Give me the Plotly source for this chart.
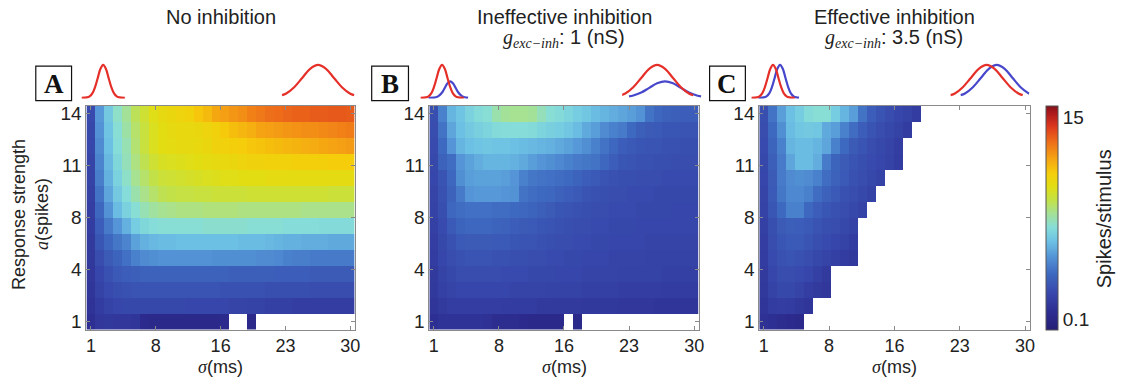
import plotly.graph_objects as go

W, H = 1133, 383

# ---------------------------------------------------------------- data
sigma_ms = list(range(1, 31))          # stimulus width (columns)
a_spikes = list(range(1, 15))          # response strength (rows)

x_tickvals = [1, 8.25, 15.5, 22.75, 30]
x_ticktext = ["1", "8", "16", "23", "30"]
y_tickvals = [1, 4.25, 7.5, 10.75, 14]
y_ticktext = ["1", "4", "8", "11", "14"]
cbar_tickvals = [0.1, 15]
cbar_ticktext = ["0.1", "15"]
z_lo, z_hi = -0.63, 15.87

# spikes per stimulus, rows from a = 1 (bottom) to a = 14 (top); None = no data
rate_no_inh = [
    [0.8, 1.2, 1.3, 1.2, 1.2, 1.1, 0.5, 0.4, 0.4, 0.4, 0.4, 0.3, 0.3, 0.3, 0.4, 0.5, None, None, 0.4],
    [1.0, 1.5, 1.8, 2.0, 2.1, 2.1, 2.1, 2.1, 2.1, 2.1, 2.1, 2.0, 2.0, 2.0, 2.0, 2.0, 1.9, 1.9, 1.8, 1.8, 1.7, 1.7, 1.7, 1.6, 1.6, 1.6, 1.6, 1.6, 1.6, 1.6],
    [1.1, 1.8, 2.2, 2.4, 2.5, 2.6, 2.6, 2.6, 2.6, 2.6, 2.6, 2.6, 2.6, 2.6, 2.6, 2.5, 2.5, 2.5, 2.5, 2.5, 2.4, 2.4, 2.4, 2.4, 2.4, 2.3, 2.3, 2.3, 2.3, 2.3],
    [1.2, 2.0, 2.5, 2.8, 3.0, 3.1, 3.2, 3.2, 3.2, 3.2, 3.2, 3.2, 3.2, 3.2, 3.2, 3.2, 3.1, 3.1, 3.1, 3.1, 3.1, 3.0, 3.0, 3.0, 3.0, 2.9, 2.9, 2.9, 2.9, 2.9],
    [1.3, 2.3, 2.9, 3.3, 3.7, 4.2, 4.5, 4.6, 4.7, 4.7, 4.7, 4.7, 4.7, 4.7, 4.6, 4.6, 4.6, 4.6, 4.6, 4.5, 4.5, 4.4, 4.2, 4.1, 4.1, 4.0, 4.0, 4.0, 4.0, 4.0],
    [1.4, 2.7, 3.4, 3.9, 4.3, 5.1, 5.5, 5.7, 5.8, 5.8, 5.9, 5.9, 5.9, 5.9, 5.9, 5.9, 5.9, 5.8, 5.8, 5.8, 5.7, 5.6, 5.5, 5.5, 5.4, 5.4, 5.4, 5.3, 5.3, 5.3],
    [1.5, 3.0, 4.0, 4.8, 5.5, 6.3, 6.7, 6.9, 7.0, 7.0, 7.0, 7.0, 7.0, 7.1, 7.1, 7.1, 7.1, 7.1, 7.0, 7.0, 7.0, 7.0, 6.9, 6.9, 6.9, 6.9, 6.8, 6.8, 6.8, 6.8],
    [1.6, 3.4, 4.7, 5.8, 6.5, 7.0, 7.5, 7.8, 8.0, 8.1, 8.2, 8.2, 8.2, 8.3, 8.3, 8.3, 8.3, 8.2, 8.2, 8.2, 8.2, 8.2, 8.2, 8.2, 8.1, 8.1, 8.1, 8.1, 8.1, 8.1],
    [1.7, 3.8, 5.2, 6.2, 6.9, 7.6, 8.1, 8.5, 8.8, 8.9, 9.0, 9.0, 9.1, 9.1, 9.2, 9.2, 9.2, 9.2, 9.3, 9.3, 9.3, 9.3, 9.3, 9.3, 9.3, 9.3, 9.3, 9.2, 9.2, 9.2],
    [1.8, 4.1, 5.5, 6.5, 7.2, 8.0, 8.5, 8.9, 9.2, 9.3, 9.4, 9.5, 9.6, 9.7, 9.8, 9.9, 9.9, 10.0, 10.0, 10.0, 10.1, 10.1, 10.1, 10.1, 10.1, 10.1, 10.1, 10.1, 10.1, 10.1],
    [1.9, 4.3, 5.7, 6.7, 7.4, 8.2, 8.8, 9.3, 9.6, 9.7, 9.8, 9.9, 10.0, 10.1, 10.2, 10.3, 10.4, 10.5, 10.6, 10.6, 10.7, 10.7, 10.7, 10.8, 10.8, 10.8, 10.8, 10.9, 10.9, 10.9],
    [2.0, 4.5, 5.9, 6.9, 7.5, 8.4, 9.1, 9.7, 10.0, 10.1, 10.2, 10.2, 10.3, 10.4, 10.6, 10.7, 10.8, 10.9, 11.1, 11.2, 11.3, 11.4, 11.5, 11.6, 11.7, 11.8, 11.9, 12.0, 12.1, 12.2],
    [2.1, 4.7, 6.0, 7.0, 7.7, 8.5, 9.1, 9.7, 10.0, 10.2, 10.3, 10.3, 10.4, 10.5, 10.7, 11.0, 11.3, 11.5, 11.7, 12.0, 12.1, 12.2, 12.3, 12.4, 12.5, 12.5, 12.6, 12.7, 12.8, 12.9],
    [2.2, 4.9, 6.2, 7.2, 7.9, 8.7, 9.3, 9.9, 10.2, 10.4, 10.5, 10.7, 11.1, 11.4, 11.9, 12.1, 12.3, 12.5, 12.8, 13.0, 13.2, 13.3, 13.4, 13.5, 13.5, 13.6, 13.6, 13.7, 13.7, 13.6],
]

rate_weak_inh = [
    [0.8, 1.0, 1.0, 1.0, 1.0, 1.0, 0.9, 0.6, 0.6, 0.6, 0.5, 0.4, 0.3, 0.3, 0.3, None, 0.4],
    [1.1, 1.4, 1.6, 1.6, 1.6, 1.6, 1.6, 1.6, 1.5, 1.5, 1.5, 1.5, 1.4, 1.4, 1.4, 1.4, 1.4, 1.3, 1.3, 1.3, 1.3, 1.2, 1.2, 1.2, 1.2, 1.1, 1.1, 1.1, 1.1, 1.1],
    [1.3, 1.7, 1.9, 2.0, 2.0, 2.0, 2.0, 2.0, 2.0, 1.9, 1.9, 1.9, 1.9, 1.8, 1.8, 1.8, 1.8, 1.7, 1.7, 1.7, 1.7, 1.6, 1.6, 1.6, 1.6, 1.6, 1.5, 1.5, 1.5, 1.5],
    [1.4, 1.8, 2.1, 2.3, 2.3, 2.3, 2.3, 2.3, 2.2, 2.2, 2.2, 2.1, 2.1, 2.1, 2.0, 2.0, 2.0, 1.9, 1.9, 1.9, 1.9, 1.8, 1.8, 1.8, 1.8, 1.8, 1.7, 1.7, 1.7, 1.7],
    [1.5, 2.0, 2.3, 2.5, 2.6, 2.6, 2.6, 2.5, 2.5, 2.4, 2.4, 2.3, 2.3, 2.2, 2.2, 2.1, 2.1, 2.0, 2.0, 2.0, 1.9, 1.9, 1.9, 1.9, 1.8, 1.8, 1.8, 1.8, 1.8, 1.8],
    [1.6, 2.1, 2.5, 2.8, 2.9, 2.9, 2.9, 2.8, 2.8, 2.7, 2.6, 2.6, 2.5, 2.4, 2.3, 2.3, 2.2, 2.2, 2.1, 2.1, 2.0, 2.0, 2.0, 2.0, 1.9, 1.9, 1.9, 1.9, 1.9, 1.9],
    [1.7, 2.2, 2.8, 3.3, 3.4, 3.4, 3.4, 3.3, 3.2, 3.0, 2.9, 2.8, 2.7, 2.6, 2.5, 2.4, 2.3, 2.3, 2.2, 2.2, 2.1, 2.1, 2.1, 2.0, 2.0, 2.0, 2.0, 2.0, 2.0, 2.0],
    [1.8, 2.4, 3.4, 3.6, 3.7, 3.7, 3.7, 3.6, 3.6, 3.5, 3.4, 3.3, 3.1, 2.9, 2.7, 2.6, 2.5, 2.4, 2.3, 2.3, 2.2, 2.2, 2.2, 2.1, 2.1, 2.1, 2.1, 2.0, 2.0, 2.0],
    [1.9, 2.5, 3.2, 4.0, 4.8, 4.9, 4.9, 4.9, 4.8, 4.7, 3.8, 3.6, 3.5, 3.4, 3.2, 3.0, 2.8, 2.6, 2.5, 2.4, 2.3, 2.3, 2.2, 2.2, 2.2, 2.1, 2.1, 2.1, 2.1, 2.1],
    [2.0, 2.6, 3.4, 4.6, 5.0, 5.1, 5.1, 5.1, 5.0, 4.8, 4.2, 3.9, 3.8, 3.7, 3.6, 3.5, 3.3, 3.0, 2.8, 2.6, 2.5, 2.4, 2.4, 2.3, 2.3, 2.3, 2.2, 2.2, 2.2, 2.2],
    [2.1, 3.2, 3.6, 4.8, 5.1, 5.4, 5.6, 5.6, 5.6, 5.5, 5.3, 5.0, 4.8, 4.6, 4.4, 4.2, 4.0, 3.9, 3.8, 3.4, 3.0, 2.7, 2.6, 2.5, 2.5, 2.4, 2.4, 2.3, 2.3, 2.3],
    [2.2, 3.5, 4.8, 5.6, 5.9, 6.0, 6.1, 6.0, 6.0, 5.9, 5.8, 5.7, 5.6, 5.5, 5.3, 5.1, 4.9, 4.6, 4.2, 3.8, 3.4, 3.0, 2.8, 2.7, 2.6, 2.6, 2.5, 2.5, 2.4, 2.4],
    [2.3, 3.8, 5.2, 5.9, 6.2, 6.4, 6.6, 6.8, 6.9, 6.9, 6.9, 6.8, 6.6, 6.4, 6.3, 6.1, 5.8, 5.3, 5.0, 4.5, 4.2, 4.0, 3.5, 3.1, 2.9, 2.8, 2.7, 2.7, 2.6, 2.6],
    [2.4, 4.2, 5.6, 6.0, 6.5, 6.8, 7.0, 7.6, 7.9, 8.0, 8.0, 7.9, 7.4, 7.0, 6.8, 6.6, 6.3, 6.1, 5.8, 5.6, 5.4, 5.2, 5.0, 4.7, 3.8, 3.4, 3.2, 3.1, 3.0, 3.0],
]

rate_strong_inh = [
    [0.9, 0.8, 0.6, 0.5, 0.4],
    [1.1, 1.5, 1.6, 1.5, 1.3, 1.1],
    [1.3, 1.8, 2.1, 2.1, 1.9, 1.6, 1.4, 1.2],
    [1.4, 2.0, 2.3, 2.3, 2.2, 2.0, 1.7, 1.4],
    [1.5, 2.2, 2.5, 2.6, 2.5, 2.3, 2.1, 1.9, 1.7, 1.5, 1.3],
    [1.6, 2.3, 2.7, 2.8, 2.8, 2.6, 2.4, 2.2, 2.0, 1.8, 1.5],
    [1.7, 2.4, 2.9, 3.1, 3.0, 2.8, 2.6, 2.4, 2.3, 2.1, 1.8],
    [1.8, 2.7, 3.5, 4.2, 4.2, 3.4, 3.0, 2.7, 2.5, 2.3, 2.1, 1.8],
    [1.9, 2.8, 3.9, 4.4, 4.4, 4.2, 3.6, 3.2, 2.8, 2.5, 2.3, 2.1, 1.8],
    [2.0, 2.9, 4.0, 4.5, 4.6, 4.5, 4.2, 3.6, 3.2, 2.8, 2.5, 2.3, 2.1, 1.8],
    [2.1, 3.1, 4.0, 5.2, 5.8, 5.8, 5.4, 4.0, 3.3, 2.9, 2.6, 2.4, 2.2, 2.0, 1.8, 1.5],
    [2.2, 3.3, 4.2, 5.6, 5.8, 5.8, 5.6, 5.2, 4.2, 3.5, 2.9, 2.6, 2.3, 2.1, 1.9, 1.6],
    [2.3, 3.5, 4.6, 5.8, 6.1, 6.2, 6.1, 5.3, 5.0, 4.2, 3.6, 3.0, 2.6, 2.3, 2.1, 1.8, 1.5],
    [2.4, 3.8, 5.0, 5.9, 6.3, 6.8, 7.0, 7.0, 6.3, 5.6, 5.0, 3.8, 3.0, 2.6, 2.3, 2.0, 1.8, 1.5],
]

# stimulus conductance profiles (time in ms, normalised amplitude)
t_narrow = [-4, -3, -2.5, -2, -1.5, -1, -0.5, 0, 0.5, 1, 1.5, 2, 2.5, 3, 4]
exc_narrow = [0, 0.01, 0.04, 0.13, 0.32, 0.6, 0.88, 1, 0.88, 0.6, 0.32, 0.13, 0.04, 0.01, 0]
t_wide = [-68, -60, -45, -30, -15, 0, 15, 30, 45, 60, 68]
exc_wide = [0.08, 0.13, 0.32, 0.6, 0.88, 1, 0.88, 0.6, 0.32, 0.13, 0.08]

t_inh_weak_narrow = [-2.5, -1.5, -1, -0.5, 0, 0.5, 1, 1.5, 2, 2.5, 3, 3.5, 4, 4.5, 5.5]
inh_weak_narrow = [0, 0.005, 0.02, 0.07, 0.16, 0.3, 0.44, 0.5, 0.44, 0.3, 0.16, 0.07, 0.02, 0.005, 0]
t_inh_weak_wide = [-53, -45, -30, -15, 0, 15, 30, 45, 60, 75, 83]
inh_weak_wide = [0.04, 0.07, 0.16, 0.3, 0.44, 0.5, 0.44, 0.3, 0.16, 0.07, 0.04]

t_inh_strong_narrow = [-2.7, -1.7, -1.2, -0.7, -0.2, 0.3, 0.8, 1.3, 1.8, 2.3, 2.8, 3.3, 3.8, 4.3, 5.3]
inh_strong_narrow = [0, 0.01, 0.04, 0.13, 0.32, 0.6, 0.88, 1, 0.88, 0.6, 0.32, 0.13, 0.04, 0.01, 0]
t_inh_strong_wide = [-49, -41, -26, -11, 4, 19, 34, 49, 64, 79, 80]
inh_strong_wide = [0.08, 0.13, 0.32, 0.6, 0.88, 1, 0.88, 0.6, 0.32, 0.13, 0.12]

# ---------------------------------------------------------------- style
FONT = "Liberation Sans, Arial, Helvetica, sans-serif"
SERIF = "Liberation Serif, Times New Roman, serif"
TXT = "#222222"
RED = "#e5302a"
BLUE = "#4747cc"

cmap = [
    (0.00, "rgb(38,30,118)"), (0.08, "rgb(45,45,145)"), (0.16, "rgb(55,70,170)"),
    (0.25, "rgb(62,105,192)"), (0.33, "rgb(85,150,215)"), (0.40, "rgb(110,195,228)"),
    (0.46, "rgb(135,222,215)"), (0.52, "rgb(165,225,150)"), (0.58, "rgb(195,225,70)"),
    (0.64, "rgb(225,222,20)"), (0.70, "rgb(245,205,10)"), (0.77, "rgb(245,160,20)"),
    (0.84, "rgb(238,110,25)"), (0.91, "rgb(220,55,30)"), (0.97, "rgb(170,25,28)"),
    (1.00, "rgb(130,18,25)"),
]


def fx(p):
    return p / W


def fy(p):
    return 1 - p / H


def padded(rows):
    return [r + [None] * (len(sigma_ms) - len(r)) for r in rows]


PLOT_TOP, PLOT_BOT = 105, 332
panels = [
    dict(z=rate_no_inh, x0=86, x1=356, title="No inhibition", g=None, letter="A", box=(35, 71)),
    dict(z=rate_weak_inh, x0=431, x1=702, title="Ineffective inhibition", g="1", letter="B", box=(373, 410)),
    dict(z=rate_strong_inh, x0=763, x1=1035, title="Effective inhibition", g="3.5", letter="C", box=(713, 749)),
]

fig = go.Figure()
layout = dict(
    width=W, height=H,
    margin=dict(l=0, r=0, t=0, b=0),
    paper_bgcolor="white", plot_bgcolor="white",
    showlegend=False,
    font=dict(family=FONT, size=19, color=TXT),
    coloraxis=dict(
        colorscale=cmap, cmin=z_lo, cmax=z_hi,
        colorbar=dict(
            x=fx(1051), xanchor="left", xpad=0,
            y=fy((PLOT_TOP + PLOT_BOT) / 2), yanchor="middle", ypad=0,
            len=(PLOT_BOT - PLOT_TOP) / H, lenmode="fraction",
            thickness=12, outlinewidth=1, outlinecolor="#555555",
            tickvals=cbar_tickvals, ticktext=cbar_ticktext, ticks="",
            tickfont=dict(family=FONT, size=19, color=TXT),
        ),
    ),
)
annotations = []
shapes = []

axis_common = dict(
    showline=True, linecolor="#8a8a8a", linewidth=1, mirror="ticks",
    ticks="inside", ticklen=4, tickcolor="#8a8a8a", tickwidth=1,
    showgrid=False, zeroline=False, fixedrange=True,
)

for i, p in enumerate(panels):
    n = i + 1
    xa = "x" if n == 1 else f"x{n}"
    ya = "y" if n == 1 else f"y{n}"
    fig.add_trace(go.Heatmap(
        x=sigma_ms, y=a_spikes, z=padded(p["z"]),
        coloraxis="coloraxis", xaxis=xa, yaxis=ya,
        hoverongaps=False, zsmooth=False,
    ))
    layout[f"xaxis{'' if n == 1 else n}"] = dict(
        axis_common, domain=[fx(p["x0"]), fx(p["x1"])], range=[0.5, 30.5],
        tickvals=x_tickvals, ticktext=x_ticktext, anchor=ya,
        tickfont=dict(family=FONT, size=18, color=TXT),
    )
    layout[f"yaxis{'' if n == 1 else n}"] = dict(
        axis_common, domain=[fy(PLOT_BOT), fy(PLOT_TOP)], range=[0.5, 14.5],
        tickvals=y_tickvals, ticktext=y_ticktext, anchor=xa,
        tickfont=dict(family=FONT, size=19, color=TXT),
    )
    cx = (p["x0"] + p["x1"]) / 2
    annotations.append(dict(
        x=fx(cx), y=fy(15), xref="paper", yref="paper", showarrow=False,
        text=p["title"], font=dict(family=FONT, size=20, color=TXT),
        xanchor="center", yanchor="middle",
    ))
    if p["g"] is not None:
        annotations.append(dict(
            x=fx(cx), y=fy(37), xref="paper", yref="paper", showarrow=False,
            text=(f"<span style='font-family:{SERIF}'><i>g</i><sub><i>exc−inh</i></sub></span>"
                  f": {p['g']} (nS)"),
            font=dict(family=FONT, size=20, color=TXT),
            xanchor="center", yanchor="middle",
        ))
    annotations.append(dict(
        x=fx(cx), y=fy(370), xref="paper", yref="paper", showarrow=False,
        text=f"<span style='font-family:{SERIF}'><i>σ</i></span>(ms)",
        font=dict(family=FONT, size=18, color=TXT),
        xanchor="center", yanchor="middle",
    ))
    bx0, bx1 = p["box"]
    shapes.append(dict(
        type="rect", xref="paper", yref="paper",
        x0=fx(bx0), x1=fx(bx1), y0=fy(100), y1=fy(65),
        line=dict(color="#111111", width=1.2), fillcolor="white",
    ))
    annotations.append(dict(
        x=fx((bx0 + bx1) / 2), y=fy(83), xref="paper", yref="paper", showarrow=False,
        text=f"<b>{p['letter']}</b>", font=dict(family=SERIF, size=27, color="#111111"),
        xanchor="center", yanchor="middle",
    ))

# small stimulus-profile insets above each panel
insets = [
    (81, 129, [-4, 4.8], [(t_narrow, exc_narrow, RED)]),
    (282, 358, [-69.4, 73], [(t_wide, exc_wide, RED)]),
    (422, 470, [-4, 4.8], [(t_inh_weak_narrow, inh_weak_narrow, BLUE), (t_narrow, exc_narrow, RED)]),
    (625, 705, [-66, 84], [(t_inh_weak_wide, inh_weak_wide, BLUE), (t_wide, exc_wide, RED)]),
    (755, 803, [-4, 4.8], [(t_inh_strong_narrow, inh_strong_narrow, BLUE), (t_narrow, exc_narrow, RED)]),
    (955, 1035, [-69, 81], [(t_inh_strong_wide, inh_strong_wide, BLUE), (t_wide, exc_wide, RED)]),
]
for k, (d0, d1, xr, curves) in enumerate(insets):
    n = 4 + k
    for tx, amp, col in curves:
        fig.add_trace(go.Scatter(
            x=tx, y=amp, mode="lines", xaxis=f"x{n}", yaxis=f"y{n}",
            line=dict(color=col, width=2.2, shape="spline", smoothing=1.0),
            hoverinfo="skip",
        ))
    layout[f"xaxis{n}"] = dict(domain=[fx(d0), fx(d1)], range=xr, visible=False,
                               anchor=f"y{n}", fixedrange=True)
    layout[f"yaxis{n}"] = dict(domain=[fy(98), fy(61)], range=[-0.03, 1.08], visible=False,
                               anchor=f"x{n}", fixedrange=True)

# axis titles
annotations.append(dict(
    x=fx(18), y=fy(215), xref="paper", yref="paper", showarrow=False,
    text="Response strength", textangle=-90,
    font=dict(family=FONT, size=18, color=TXT), xanchor="center", yanchor="middle",
))
annotations.append(dict(
    x=fx(41), y=fy(215), xref="paper", yref="paper", showarrow=False,
    text=f"<span style='font-family:{SERIF}'><i>a</i></span>(spikes)", textangle=-90,
    font=dict(family=FONT, size=18, color=TXT), xanchor="center", yanchor="middle",
))
annotations.append(dict(
    x=fx(1110), y=fy(220), xref="paper", yref="paper", showarrow=False,
    text="Spikes/stimulus", textangle=-90,
    font=dict(family=FONT, size=20, color=TXT), xanchor="center", yanchor="middle",
))

layout["annotations"] = annotations
layout["shapes"] = shapes
fig.update_layout(**layout)

fig.write_html("out.html")
